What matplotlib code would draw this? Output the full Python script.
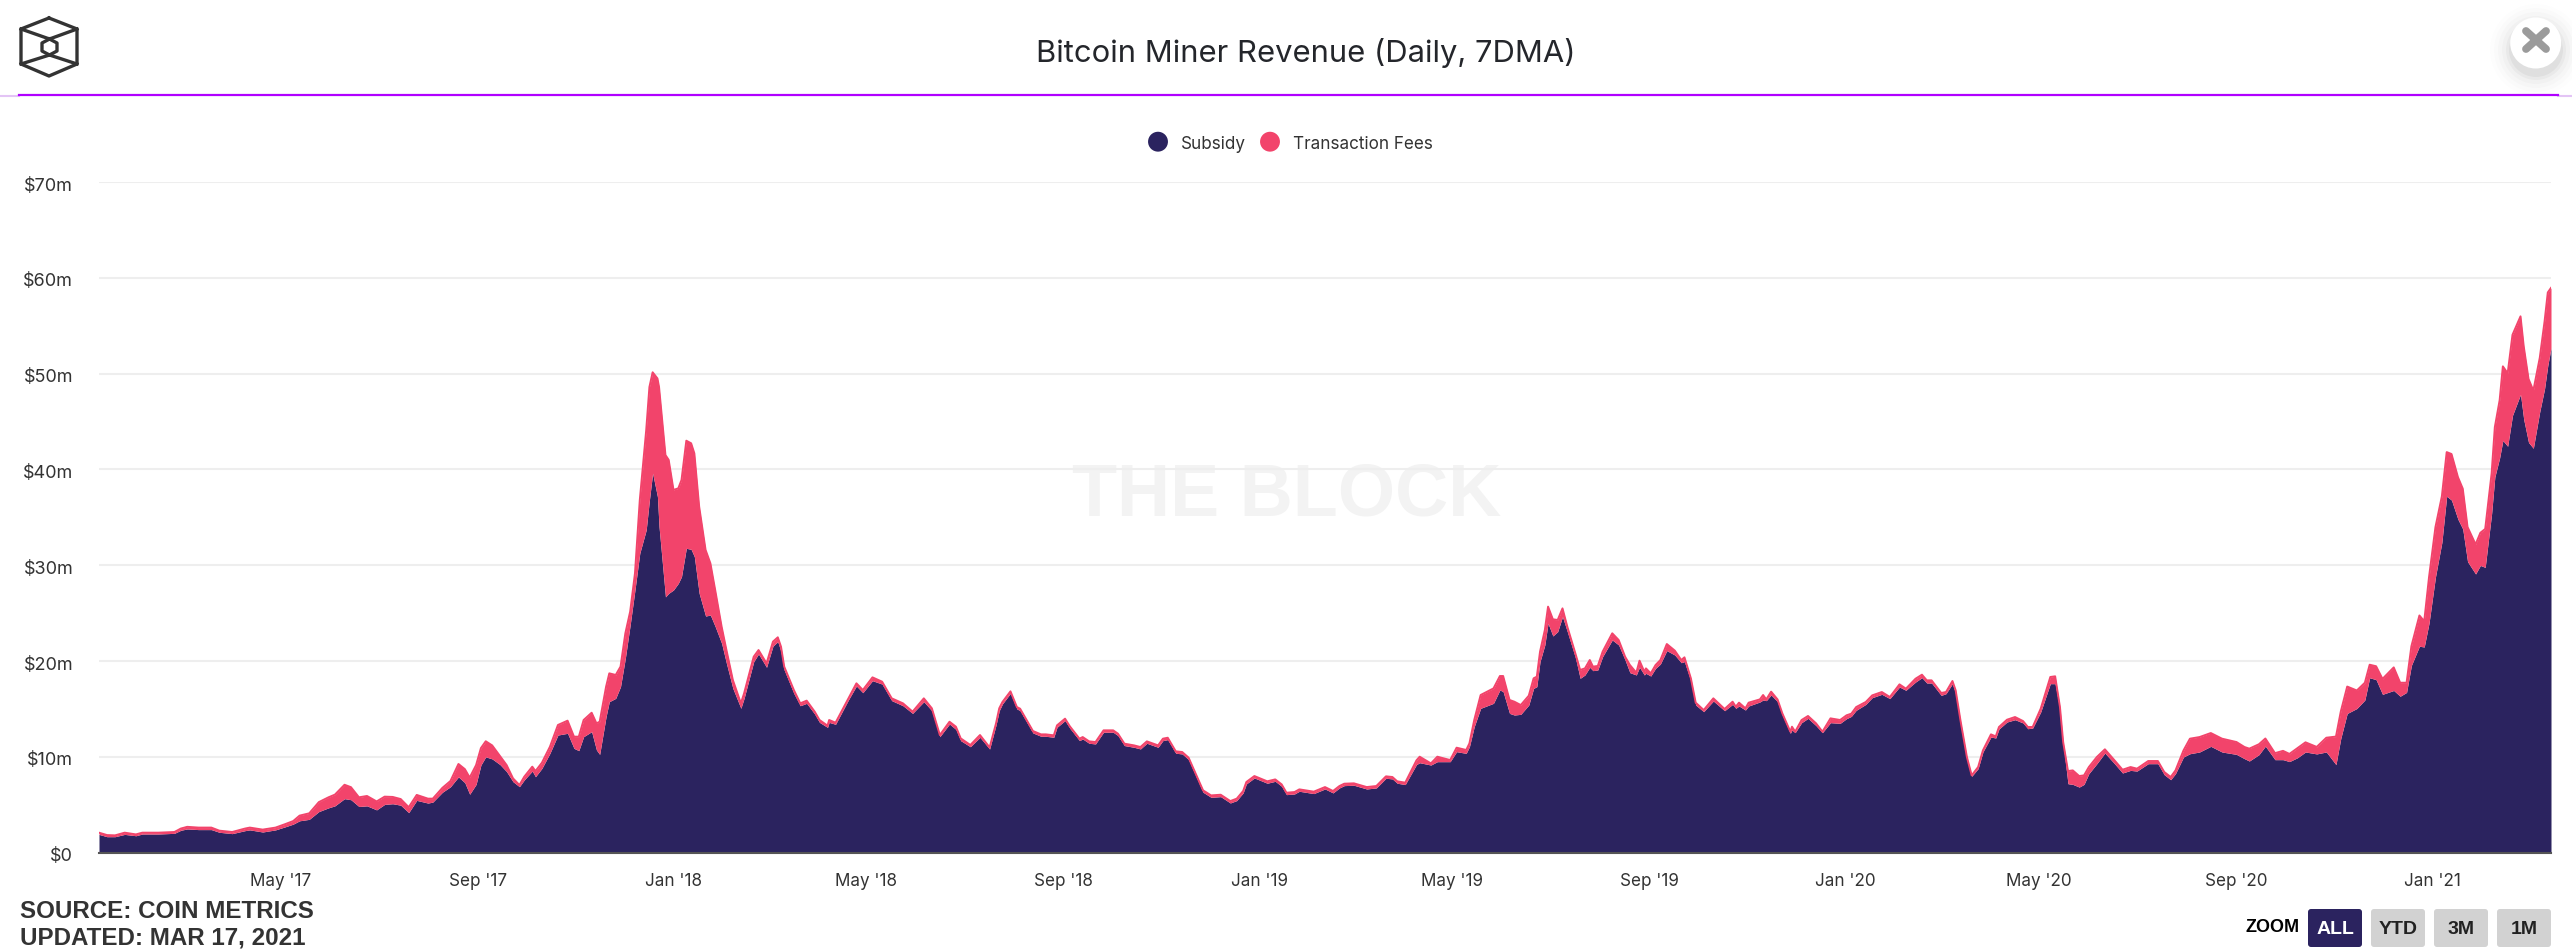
import numpy as np
import pandas as pd
import matplotlib
matplotlib.use('Agg')
import matplotlib.pyplot as plt
from matplotlib.patches import Circle, FancyBboxPatch
from matplotlib.transforms import ScaledTranslation

# all values in $m, days counted from start_date
start_date = pd.Timestamp('2017-01-08')
end_date = pd.Timestamp('2021-03-16')

days_a = [0,5,10,16,23,27,37,47,51,55,62,70,75,83,91,94,102,110,116,121,125,131,137,143,147,153,157,162,167,173,178,183,188,193,198,205,208,214,219,224,228,231,235,238,241,245,250]
total_a = [2.09,1.84,1.81,2.09,1.91,2.09,2.09,2.16,2.52,2.70,2.62,2.62,2.30,2.16,2.52,2.62,2.41,2.62,2.98,3.30,3.87,4.11,5.28,5.78,6.06,7.09,6.84,5.78,5.92,5.35,5.85,5.82,5.60,4.75,6.03,5.64,5.64,6.77,7.48,9.26,8.72,7.84,9.15,10.92,11.63,11.2,10.07]
subsidy_a = [1.91,1.67,1.67,1.91,1.77,1.95,1.95,2.02,2.34,2.48,2.41,2.41,2.13,1.99,2.30,2.38,2.16,2.38,2.70,2.98,3.33,3.48,4.29,4.68,4.89,5.64,5.53,4.82,4.89,4.47,5.04,5.11,4.96,4.18,5.46,5.18,5.28,6.31,6.88,7.91,7.30,6.10,7.13,9.15,10.0,9.79,9.18]

days_b = [254,258,262,265,270,272,276,281,286,292,296,299,302,307,310,312,316,318,322,325,328,331,334,337,341,343,345,348,349,353,355,358,361,363,366,369,371,374,378,381,384,388,391,395,400,402,408,411,416,420,423,425,427,433,437,441,446,449,454,455,459,467,472,476,482,488,494,501,507,514,519,524,530,534,537,543,549,555,559]
total_b = [9.15,7.76,7.06,7.93,8.98,8.52,9.39,11.06,13.33,13.78,12.11,12.11,13.85,14.61,13.5,13.67,17.33,18.72,18.55,19.42,22.9,25.16,29.16,36.8,44.1,48.6,50.14,49.5,48.6,41.5,41.0,37.86,38.03,38.9,43.0,42.73,41.68,36.12,31.6,30.2,27.4,23.59,21.15,18.02,15.59,16.63,20.46,21.15,19.76,22.03,22.48,21.5,19.42,16.98,15.59,15.87,14.72,13.85,13.26,13.85,13.57,16.11,17.68,16.98,18.3,17.85,16.11,15.59,14.72,16.11,15.07,12.28,13.67,13.15,11.93,11.24,12.28,10.99,13.5]
subsidy_b = [8.46,7.41,6.89,7.59,8.52,7.93,8.80,10.37,12.28,12.46,10.89,10.65,12.11,12.63,10.72,10.26,14.2,15.76,16.11,17.33,20.29,23.76,27.42,31.25,33.68,36.8,39.6,37.16,34.03,26.7,27.07,27.42,28.11,28.81,31.77,31.66,30.9,27.07,24.7,24.8,23.6,21.85,19.76,17.15,15.07,16.11,19.94,20.74,19.35,21.57,22.03,20.98,19.07,16.63,15.34,15.59,14.47,13.6,13.08,13.6,13.4,15.94,17.4,16.7,17.95,17.6,15.87,15.34,14.54,15.76,14.82,12.11,13.43,12.87,11.69,11.06,12.04,10.82,13.33]

days_c = [561,563,568,572,574,582,587,590,595,597,602,605,611,613,617,621,626,632,635,639,645,649,653,660,663,666,671,675,679,688,693,699,705,709,713,715,720,728,733,737,740,745,748,757,764,769,773,776,782,790,796,802,806,809,814,821]
total_c = [15.07,15.73,16.84,15.2,15.03,12.7,12.35,12.35,12.25,13.29,13.99,13.19,11.9,12.07,11.62,11.55,12.77,12.77,12.42,11.38,11.2,11.03,11.62,11.2,11.9,12.0,10.58,10.51,9.92,6.51,5.98,6.05,5.39,5.64,6.44,7.38,8.0,7.45,7.65,7.13,6.26,6.33,6.61,6.37,6.85,6.44,6.96,7.2,7.24,6.85,6.96,7.97,7.9,7.45,7.31,9.64]
subsidy_c = [14.82,15.53,16.64,15.0,14.83,12.5,12.15,12.15,12.05,13.09,13.79,12.99,11.7,11.87,11.42,11.35,12.57,12.57,12.22,11.18,11.0,10.83,11.42,11.0,11.7,11.8,10.38,10.31,9.72,6.31,5.78,5.85,5.19,5.44,6.24,7.18,7.8,7.25,7.45,6.93,6.06,6.13,6.41,6.17,6.65,6.24,6.76,7.0,7.04,6.65,6.76,7.77,7.7,7.25,7.11,9.2]

days_d = [823,830,834,842,846,852,854,857,861,869,873,875,879,882,886,891,894,896,898,901,903,906,909,912,915,920,923,926,929,931,934,937,943,947,951,954,958,960,963,964,967,970,973,977,982,986,988,992,995,1000,1006,1013,1018,1020,1022,1026,1028,1035,1037,1039,1042,1046,1049,1054,1055,1057,1061,1065,1070,1074,1079,1085]
total_d = [10.02,9.32,10.02,9.67,10.96,10.72,11.41,13.85,16.46,17.15,18.44,18.44,15.94,15.76,15.41,16.39,18.2,18.37,20.98,23.24,25.68,24.36,24.29,25.5,23.59,20.81,19.07,19.24,20.11,19.42,19.49,20.98,22.9,22.2,20.46,19.59,18.79,20.04,18.89,19.24,18.72,19.59,20.11,21.78,21.09,20.11,20.39,18.2,15.66,14.89,16.11,15.0,15.76,15.24,15.66,15.07,15.66,16.0,16.46,16.0,16.81,16.0,14.54,12.63,13.15,12.63,13.85,14.27,13.5,12.63,14.02,13.85]
subsidy_d = [9.39,9.15,9.5,9.5,10.54,10.37,11.06,13.15,15.07,15.59,16.98,16.81,14.54,14.37,14.44,15.41,17.15,17.33,19.94,21.68,23.94,22.62,23.07,24.63,23.07,20.39,18.2,18.55,19.35,19.0,19.07,20.46,22.2,21.68,20.11,18.79,18.55,19.35,18.55,18.72,18.44,19.24,19.69,21.09,20.63,19.83,19.94,17.92,15.41,14.72,15.83,14.82,15.48,15.07,15.31,14.89,15.31,15.73,15.94,15.87,16.46,15.76,14.37,12.46,12.8,12.53,13.57,14.02,13.26,12.53,13.57,13.5]

days_e = [1089,1092,1095,1101,1105,1111,1116,1122,1126,1132,1136,1139,1142,1148,1151,1155,1157,1160,1164,1167,1171,1174,1179,1182,1184,1189,1194,1199,1202,1205,1210,1216,1219,1222,1224,1227,1230,1234,1237,1240,1245,1250,1256,1261,1266,1270,1277,1283,1287,1291,1294,1299,1303,1309,1316,1323,1332,1337]
total_e = [14.34,14.51,15.2,15.73,16.42,16.77,16.25,17.57,17.12,18.16,18.58,17.99,17.99,16.67,16.77,17.92,16.95,13.81,9.99,8.07,8.94,10.68,12.35,12.14,13.12,13.88,14.16,13.74,13.12,13.12,15.03,18.34,18.41,15.2,11.55,8.52,8.59,8.0,8.07,8.94,9.99,10.79,9.64,8.66,8.94,8.77,9.57,9.57,8.42,7.9,8.59,10.68,11.9,12.07,12.49,11.9,11.55,11.03]
subsidy_e = [13.99,14.23,14.86,15.48,16.18,16.53,16.08,17.29,16.95,17.81,18.27,17.71,17.71,16.42,16.6,17.64,16.6,13.64,9.78,7.97,8.77,10.51,12.07,11.97,12.91,13.64,13.88,13.54,12.94,13.01,14.68,17.64,17.64,14.86,11.38,7.2,7.13,6.85,7.13,8.25,9.29,10.4,9.29,8.32,8.59,8.52,9.29,9.29,8.14,7.62,8.25,9.99,10.33,10.51,11.1,10.51,10.26,9.81]

days_f = [1340,1346,1350,1356,1361,1365,1370,1375,1382,1388,1394,1397,1401,1407,1412,1415,1419,1423,1430,1434,1438,1441,1446,1449,1452,1456,1460,1463,1466,1470,1473,1476,1481,1484,1487,1491,1493,1496,1498,1501,1504,1509,1511,1514,1517,1521,1524,1526,1528]
total_f = [10.86,11.32,11.92,10.39,10.63,10.31,10.92,11.52,11.04,12.0,12.12,14.73,17.34,16.93,17.74,19.62,19.46,18.14,19.34,17.74,17.74,21.55,24.76,24.16,28.77,33.99,37.2,41.81,41.61,39.2,38.0,33.99,32.18,33.39,33.79,39.6,44.42,47.23,50.76,50.04,54.05,55.98,52.85,49.44,48.23,51.65,55.46,58.47,58.95]
subsidy_f = [9.57,10.23,11.12,9.71,9.71,9.51,9.91,10.51,10.31,10.51,9.19,11.92,14.53,15.05,15.93,18.26,18.06,16.53,16.93,16.33,16.73,19.54,21.55,21.47,23.96,28.77,32.38,37.2,36.8,34.8,33.79,30.38,29.09,29.98,29.78,35.39,39.2,41.21,43.02,42.42,45.63,47.83,45.22,42.82,42.21,46.03,48.43,50.84,52.65]

tick_dates = ['2017-05-01','2017-09-01','2018-01-01','2018-05-01','2018-09-01','2019-01-01','2019-05-01','2019-09-01','2020-01-01','2020-05-01','2020-09-01','2021-01-01']
tick_labels = ["May '17","Sep '17","Jan '18","May '18","Sep '18","Jan '19","May '19","Sep '19","Jan '20","May '20","Sep '20","Jan '21"]
y_ticks = [0,10,20,30,40,50,60,70]
y_labels = ['$0','$10m','$20m','$30m','$40m','$50m','$60m','$70m']
series_names = ['Subsidy','Transaction Fees']
zoom_buttons = ['ALL','YTD','3M','1M']

NAVY = '#2b235f'
PINK = '#f2446b'
W, H = 2572, 952

plt.rcParams['font.family'] = ['Inter', 'DejaVu Sans']

days = np.concatenate([days_a, days_b, days_c, days_d, days_e, days_f])
total = np.concatenate([total_a, total_b, total_c, total_d, total_e, total_f])
subsidy = np.concatenate([subsidy_a, subsidy_b, subsidy_c, subsidy_d, subsidy_e, subsidy_f])
dates = start_date + pd.to_timedelta(days, unit='D')

fig = plt.figure(figsize=(W/100, H/100), dpi=100, facecolor='white')

# main chart
ax = fig.add_axes([99/W, (H-852.7)/H, (2551-99)/W, (852.7-182)/H])
ax.fill_between(dates, 0, subsidy, color=NAVY, lw=0, zorder=3)
ax.fill_between(dates, subsidy, total, color=PINK, lw=0, zorder=3)
ax.plot(dates, total, color=PINK, lw=1.4, zorder=4)
ax.set_xlim(start_date, end_date)
ax.set_ylim(0, 70)
ax.set_yticks(y_ticks)
ax.set_yticklabels(y_labels, fontsize=13, color='#333333')
ax.set_xticks(pd.to_datetime(tick_dates))
ax.set_xticklabels(tick_labels, fontsize=12.3, color='#333333')
ax.tick_params(length=0)
ax.tick_params(axis='y', pad=18.5)
ax.tick_params(axis='x', pad=14.5)
# y labels sit a little under their gridlines
nudge = ScaledTranslation(0, -2/100, fig.dpi_scale_trans)
for lbl in ax.get_yticklabels():
    lbl.set_transform(lbl.get_transform() + nudge)
ax.yaxis.grid(True, color='#eeeeee', lw=1.5, zorder=0)
ax.set_axisbelow(True)
for side in ['top', 'left', 'right']:
    ax.spines[side].set_visible(False)
ax.spines['bottom'].set_color('#555555')
ax.spines['bottom'].set_linewidth(1.5)
ax.spines['bottom'].set_zorder(5)
ax.patch.set_alpha(0)

# page furniture in pixel coordinates
ov = fig.add_axes([0, 0, 1, 1], zorder=-1)
ov.set_xlim(0, W)
ov.set_ylim(H, 0)
ov.axis('off')
top = fig.add_axes([0, 0, 1, 1], zorder=5)
top.set_xlim(0, W)
top.set_ylim(H, 0)
top.axis('off')
top.patch.set_alpha(0)

ov.text(1287, 496, 'THE BLOCK', fontsize=53, fontweight='bold', color='#f3f3f3',
        ha='center', va='center', family=['Liberation Sans'])

top.text(1306, 53, 'Bitcoin Miner Revenue (Daily, 7DMA)', fontsize=22.3, color='#24262b',
         ha='center', va='center')
top.plot([0, 19], [95.5, 95.5], color='#e3c4f5', lw=1.5)
top.plot([2558, W], [95.5, 95.5], color='#e3c4f5', lw=1.5)
top.plot([19, 2558], [95, 95], color='#b000ff', lw=1.6)

# logo
logo = '#333333'
top.plot([49, 77, 77, 49, 21, 21, 49], [18, 29, 64, 76, 64, 29, 18], color=logo, lw=2.4, solid_joinstyle='round')
top.plot([49.5, 57, 57, 49.5, 42, 42, 49.5], [39, 43, 51, 55, 51, 43, 39], color=logo, lw=2.4)
for x0, y0, y1 in [(21, 29, 39), (77, 29, 39), (21, 64, 55), (77, 64, 55)]:
    top.plot([x0, 49.5], [y0, y1], color=logo, lw=2.4)

# close button with soft shadow
for r, a in zip([46, 42, 38, 34, 30, 27], [0.006, 0.01, 0.015, 0.02, 0.03, 0.04]):
    top.add_patch(Circle((2536, 50), r, color='black', alpha=a, lw=0))
top.add_patch(Circle((2535.7, 43), 25.5, color='white', lw=0))
top.plot([2526, 2546], [31, 49], color='#9b9b9b', lw=5.6, solid_capstyle='round')
top.plot([2526, 2546], [49, 31], color='#9b9b9b', lw=5.6, solid_capstyle='round')

# legend
top.scatter([1158, 1270], [141.7, 141.7], s=[205, 205], color=[NAVY, PINK], lw=0)
top.text(1181, 144.5, series_names[0], fontsize=12.3, color='#333333', va='center')
top.text(1293, 144.5, series_names[1], fontsize=12.3, color='#333333', va='center')

# footer
top.text(20, 912, 'SOURCE: COIN METRICS', fontsize=17.4, fontweight='bold', color='#333333',
         va='center', family=['Liberation Sans'])
top.text(20, 938, 'UPDATED: MAR 17, 2021', fontsize=17.4, fontweight='bold', color='#333333',
         va='center', family=['Liberation Sans'])

# zoom buttons
top.text(2246, 928, 'ZOOM', fontsize=13, fontweight='bold', color='black', va='center',
         family=['Liberation Sans'])
for name, x0 in zip(zoom_buttons, [2308, 2371, 2434, 2497]):
    active = name == 'ALL'
    top.add_patch(FancyBboxPatch((x0+3, 912), 48, 32, boxstyle='round,pad=3', lw=0,
                                 fc=NAVY if active else '#d2d2d2'))
    top.text(x0+27, 930, name, fontsize=14, fontweight='bold', ha='center', va='center',
             color='white' if active else '#222222', family=['Liberation Sans'])

fig.savefig('out.png', dpi=100)
